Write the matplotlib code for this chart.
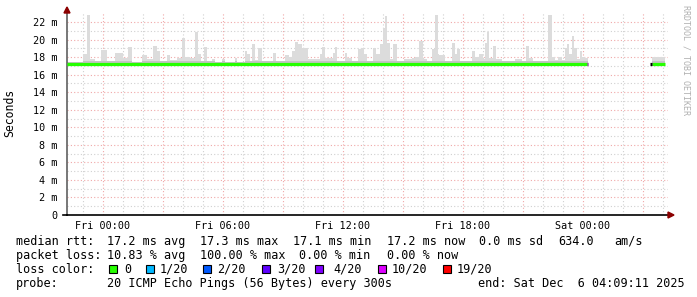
import numpy as np
import matplotlib
matplotlib.use("Agg")
import matplotlib.pyplot as plt
from matplotlib.patches import Rectangle, Polygon
from matplotlib.lines import Line2D

# hours relative to Fri 00:00, smoke top (max ping) in ms for each step
smoke_start_h = [-1.80, -1.00, -0.80, -0.65, -0.40, -0.10, 0.20, 0.60, 0.80, 1.00,
                 1.25, 1.45, 1.95, 2.20, 2.50, 2.70, 2.85, 3.20, 3.35, 3.70,
                 3.95, 4.10, 4.35, 4.60, 4.75, 4.90, 5.05, 5.20, 5.45, 5.60,
                 5.95, 6.10, 6.60, 6.70, 7.10, 7.20, 7.35, 7.45, 7.60, 7.75,
                 7.95, 8.50, 8.65, 9.10, 9.30, 9.45, 9.60, 9.75, 9.95, 10.25,
                 10.85, 10.95, 11.10, 11.50, 11.60, 11.70, 12.10, 12.20, 12.45, 12.75,
                 12.90, 13.05, 13.20, 13.50, 13.65, 13.85, 14.00, 14.10, 14.20, 14.35,
                 14.50, 14.70, 15.05, 15.45, 15.60, 15.80, 16.00, 16.20, 16.45, 16.60,
                 16.75, 16.80, 17.10, 17.45, 17.60, 17.70, 17.85, 18.45, 18.60, 18.80,
                 19.00, 19.10, 19.20, 19.30, 19.50, 19.65, 19.95, 20.60, 20.95, 21.15,
                 21.30, 21.50, 22.25, 22.45, 22.60, 22.75, 22.95, 23.10, 23.20, 23.30,
                 23.45, 23.55, 23.70, 23.85, 23.95, 24.10]
smoke_top_ms = [17.5, 18.4, 22.8, 17.8, 17.6, 18.8, 17.6, 18.5, 18.5, 17.9,
                19.1, 17.5, 18.2, 17.8, 19.3, 18.7, 17.6, 18.2, 17.7, 17.9,
                20.2, 18.0, 17.9, 20.9, 18.4, 17.6, 19.1, 17.6, 17.8, 17.4,
                17.8, 17.4, 17.9, 17.5, 18.7, 18.3, 17.6, 19.5, 17.7, 19.0,
                17.6, 18.5, 17.6, 18.2, 18.0, 18.7, 19.7, 19.5, 19.0, 17.8,
                18.3, 19.2, 17.9, 18.5, 19.2, 17.6, 18.5, 17.9, 17.6, 18.9,
                19.0, 18.3, 17.6, 19.0, 18.3, 19.5, 21.3, 22.7, 19.6, 17.8,
                19.5, 17.6, 17.8, 17.9, 18.0, 19.8, 17.8, 17.6, 18.9, 22.8,
                18.4, 18.2, 17.6, 19.6, 18.3, 18.9, 17.6, 18.7, 18.0, 18.3,
                17.8, 19.6, 20.9, 17.9, 19.3, 17.8, 17.6, 17.8, 17.6, 19.3,
                17.9, 17.6, 22.8, 18.0, 17.7, 18.0, 17.7, 19.0, 19.5, 18.3,
                20.4, 19.0, 17.8, 18.7, 18.0, 17.9]
smoke_end_h = 24.25

smoke2_start_h = [27.45]
smoke2_top_ms = [18.0]
smoke2_end_h = 28.10

smoke_min_ms = 17.0
smoke_dark_ms = 17.55

median_h = [-1.80, 24.25]
median_ms = [17.2, 17.2]
median2_h = [27.45, 28.10]
median2_ms = [17.2, 17.2]

xtick_h = [0, 6, 12, 18, 24]
xtick_labels = ["Fri 00:00", "Fri 06:00", "Fri 12:00", "Fri 18:00", "Sat 00:00"]

loss_labels = ["0", "1/20", "2/20", "3/20", "4/20", "10/20", "19/20"]
loss_colors = ["#26ff00", "#00b8ff", "#0059ff", "#5e00ff", "#7e00ff", "#dd00ff", "#ff0000"]

W, H = 697, 297
fig = plt.figure(figsize=(W / 100, H / 100), dpi=100)
plt.rcParams['font.family'] = ['DejaVu Sans Mono']


def fx(x):
    return x / W


def fy(y):
    return 1 - y / H


ax = fig.add_axes([fx(67), fy(215), fx(668) - fx(67), fy(12.4) - fy(215)])
ax.set_xlim(-1.8, 28.25)
ax.set_ylim(0, 23.1)

# grid
for h in np.arange(-1, 29, 1):
    c = "#f0a8a8" if h % 3 == 0 else "#d0d0d0"
    ax.axvline(h, color=c, lw=0.8, ls=(0, (1, 2)), zorder=0)
for v in range(1, 23):
    c = "#f0a8a8" if v % 2 == 0 else "#d0d0d0"
    ax.axhline(v, color=c, lw=0.8, ls=(0, (1, 2)), zorder=0)

# smoke
for starts, tops, end in [(smoke_start_h, smoke_top_ms, smoke_end_h),
                          (smoke2_start_h, smoke2_top_ms, smoke2_end_h)]:
    xs = list(starts) + [end]
    ys = list(tops) + [tops[-1]]
    ax.fill_between(xs, smoke_min_ms, ys, step='post', color="#dcdcdc", lw=0, zorder=1)
    dark = [min(t, smoke_dark_ms) for t in ys]
    ax.fill_between(xs, smoke_min_ms, dark, step='post', color="#c4c4c4", lw=0, zorder=1)

# median rtt
ax.plot(median_h, median_ms, color=loss_colors[0], lw=2.3, solid_capstyle='butt', zorder=3)
ax.plot(median2_h, median2_ms, color=loss_colors[0], lw=2.3, solid_capstyle='butt', zorder=3)
ax.plot([24.18, 24.25], [17.2, 17.2], color=loss_colors[5], lw=2.3, solid_capstyle='butt', zorder=4)
ax.plot([27.35, 27.45], [17.2, 17.2], color="black", lw=2.3, solid_capstyle='butt', zorder=4)

for s in ["top", "right"]:
    ax.spines[s].set_visible(False)
ax.spines["bottom"].set_color("black")
ax.spines["left"].set_color("#606060")
ax.spines["bottom"].set_linewidth(1.2)
ax.spines["left"].set_linewidth(1.2)

ax.set_xticks(xtick_h)
ax.set_xticklabels(xtick_labels)
ax.set_yticks(range(0, 23, 2))
ax.set_yticklabels(["0"] + ["%d m" % v for v in range(2, 23, 2)])
ax.tick_params(axis='both', length=0, labelsize=7.3)
ax.tick_params(axis='y', pad=7)
ax.tick_params(axis='x', pad=4)

# axis extension and arrows
fig.add_artist(Line2D([fx(63), fx(67)], [fy(215), fy(215)], color="black", lw=1.2))
fig.add_artist(Polygon([[fx(668), fy(212)], [fx(674), fy(215)], [fx(668), fy(218)]],
                       closed=True, color="#8b0000", transform=fig.transFigure))
fig.add_artist(Polygon([[fx(64), fy(13)], [fx(67), fy(7)], [fx(70), fy(13)]],
                       closed=True, color="#8b0000", transform=fig.transFigure))

fig.text(fx(10), fy(113), "Seconds", rotation=90, fontsize=8.3, va='center', ha='center')
fig.text(fx(686), fy(60), "RRDTOOL / TOBI OETIKER", rotation=270, fontsize=6,
         color="#b0b0b0", va='center', ha='center')

fs = 8.5
line1 = [(16, "median rtt:"), (107, "17.2 ms avg"), (200, "17.3 ms max"), (293, "17.1 ms min"),
         (387, "17.2 ms now"), (479, "0.0 ms sd"), (558, "634.0"), (614, "am/s")]
line2 = [(16, "packet loss:"), (107, "10.83 % avg"), (200, "100.00 % max"),
         (299, "0.00 % min"), (387, "0.00 % now")]
line4 = [(16, "probe:"), (107, "20 ICMP Echo Pings (56 Bytes) every 300s"),
         (478, "end: Sat Dec  6 04:09:11 2025")]
for y, items in [(241.5, line1), (255.5, line2), (283.5, line4)]:
    for x, t in items:
        fig.text(fx(x), fy(y), t, fontsize=fs, va='center', ha='left')

fig.text(fx(16), fy(269.5), "loss color:", fontsize=fs, va='center', ha='left')
square_x = [109, 146, 203, 262, 315, 378, 443]
label_x = [124, 160, 217, 277, 333, 392, 457]
for sx, lx, lab, col in zip(square_x, label_x, loss_labels, loss_colors):
    fig.add_artist(Rectangle((fx(sx), fy(273)), fx(8), 8 / H, facecolor=col,
                             edgecolor="black", lw=0.8, transform=fig.transFigure))
    fig.text(fx(lx), fy(269.5), lab, fontsize=fs, va='center', ha='left')

fig.savefig("out.png", dpi=100, facecolor="white")
